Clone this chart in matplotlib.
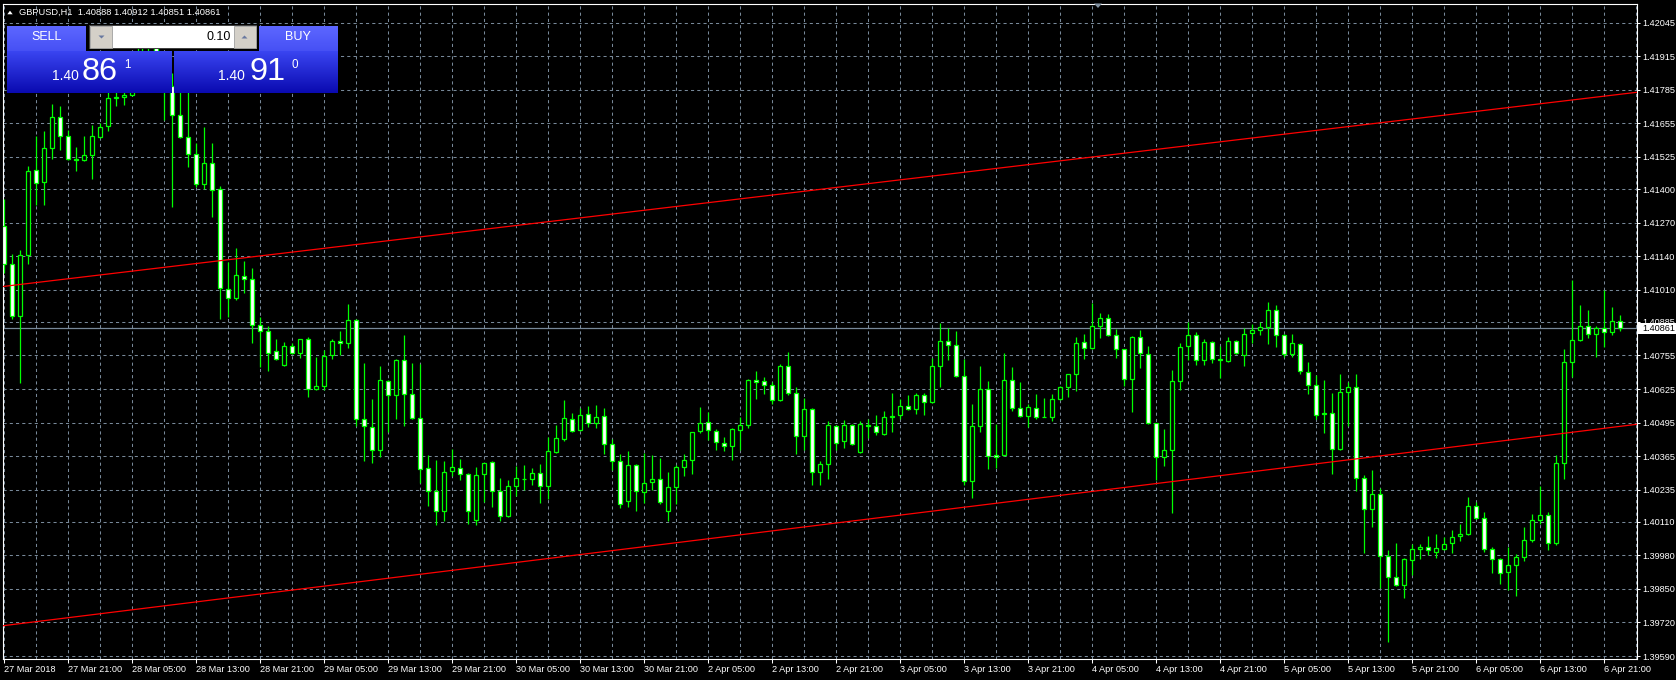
import matplotlib
matplotlib.use("Agg")
import matplotlib.pyplot as plt
from matplotlib.patches import Rectangle, Polygon
from matplotlib.transforms import Affine2D
import numpy as np

plt.rcParams['font.family'] = ['Liberation Sans', 'DejaVu Sans']

# ---------------- data ----------------
opens = [
    1.41258, 1.41108, 1.40909, 1.41146, 1.41473, 1.41426, 1.41558, 1.41678, 1.41605, 1.41515,
    1.41512, 1.41531, 1.41601, 1.41643, 1.41754, 1.41756, 1.41765, 1.41860, 1.41960, 1.41950,
    1.41860, 1.41800, 1.41686, 1.41601, 1.41535, 1.41419, 1.41500, 1.41399, 1.41012, 1.40977,
    1.41062, 1.41050, 1.40872, 1.40849, 1.40771, 1.40717, 1.40791, 1.40764, 1.40818, 1.40624,
    1.40636, 1.40756, 1.40810, 1.40803, 1.40892, 1.40508, 1.40477, 1.40388, 1.40655, 1.40601,
    1.40737, 1.40605, 1.40512, 1.40318, 1.40229, 1.40151, 1.40306, 1.40318, 1.40295, 1.40116,
    1.40295, 1.40341, 1.40229, 1.40132, 1.40248, 1.40275, 1.40275, 1.40299, 1.40248, 1.40380,
    1.40430, 1.40508, 1.40465, 1.40527, 1.40492, 1.40520, 1.40411, 1.40345, 1.40190, 1.40330,
    1.40225, 1.40264, 1.40275, 1.40151, 1.40244, 1.40322, 1.40349, 1.40461, 1.40496, 1.40461,
    1.40415, 1.40403, 1.40465, 1.40485, 1.40659, 1.40655, 1.40640, 1.40582, 1.40713, 1.40609,
    1.40442, 1.40547, 1.40302, 1.40333, 1.40481, 1.40423, 1.40485, 1.40380, 1.40485, 1.40481,
    1.40450, 1.40516, 1.40523, 1.40558, 1.40547, 1.40601, 1.40574, 1.40713, 1.40810, 1.40795,
    1.40675, 1.40268, 1.40481, 1.40624, 1.40368, 1.40368, 1.40659, 1.40551, 1.40520, 1.40551,
    1.40518, 1.40516, 1.40585, 1.40632, 1.40682, 1.40806, 1.40783, 1.40868, 1.40899, 1.40834,
    1.40779, 1.40663, 1.40826, 1.40760, 1.40492, 1.40361, 1.40388, 1.40655, 1.40791, 1.40834,
    1.40737, 1.40806, 1.40740, 1.40733, 1.40810, 1.40756, 1.40841, 1.40853, 1.40865, 1.40930,
    1.40834, 1.40760, 1.40799, 1.40690, 1.40640, 1.40531, 1.40531, 1.40392, 1.40613, 1.40632,
    1.40279, 1.40159, 1.40217, 1.39977, 1.39895, 1.39867, 1.39961, 1.40004, 1.40012, 1.39992,
    1.40004, 1.40027, 1.40054, 1.40062, 1.40171, 1.40124, 1.40004, 1.39965, 1.39915, 1.39942,
    1.39973, 1.40039, 1.40116, 1.40136, 1.40027, 1.40337, 1.40729, 1.40814, 1.40868, 1.40838,
    1.40861, 1.40845, 1.40888,
]
highs = [
    1.41362, 1.41149, 1.41163, 1.41488, 1.41605, 1.41625, 1.41730, 1.41722, 1.41629, 1.41563,
    1.41606, 1.41649, 1.41655, 1.41791, 1.41790, 1.41800, 1.41880, 1.42010, 1.42030, 1.41990,
    1.41920, 1.41850, 1.41775, 1.41780, 1.41578, 1.41641, 1.41579, 1.41412, 1.41116, 1.41170,
    1.41121, 1.41094, 1.40906, 1.40869, 1.40818, 1.40808, 1.40802, 1.40820, 1.40826, 1.40748,
    1.40775, 1.40818, 1.40850, 1.40955, 1.40895, 1.40725, 1.40585, 1.40713, 1.40658, 1.40740,
    1.40834, 1.40725, 1.40721, 1.40368, 1.40349, 1.40345, 1.40392, 1.40353, 1.40298, 1.40322,
    1.40340, 1.40344, 1.40279, 1.40271, 1.40326, 1.40330, 1.40318, 1.40333, 1.40438, 1.40485,
    1.40582, 1.40531, 1.40551, 1.40558, 1.40562, 1.40551, 1.40430, 1.40372, 1.40384, 1.40333,
    1.40376, 1.40368, 1.40357, 1.40302, 1.40330, 1.40372, 1.40460, 1.40554, 1.40535, 1.40469,
    1.40438, 1.40472, 1.40516, 1.40662, 1.40694, 1.40671, 1.40651, 1.40721, 1.40768, 1.40632,
    1.40589, 1.40550, 1.40345, 1.40500, 1.40484, 1.40504, 1.40489, 1.40500, 1.40508, 1.40523,
    1.40539, 1.40609, 1.40585, 1.40601, 1.40609, 1.40609, 1.40744, 1.40880, 1.40861, 1.40849,
    1.40741, 1.40566, 1.40713, 1.40655, 1.40489, 1.40764, 1.40709, 1.40651, 1.40566, 1.40605,
    1.40589, 1.40605, 1.40635, 1.40685, 1.40826, 1.40837, 1.40959, 1.40919, 1.40915, 1.40857,
    1.40782, 1.40829, 1.40853, 1.40791, 1.40495, 1.40469, 1.40698, 1.40802, 1.40884, 1.40845,
    1.40818, 1.40810, 1.40791, 1.40826, 1.40814, 1.40861, 1.40876, 1.40884, 1.40963, 1.40951,
    1.40837, 1.40837, 1.40802, 1.40729, 1.40678, 1.40659, 1.40609, 1.40682, 1.40651, 1.40682,
    1.40291, 1.40310, 1.40240, 1.40000, 1.40027, 1.39969, 1.40023, 1.40023, 1.40054, 1.40062,
    1.40051, 1.40078, 1.40101, 1.40206, 1.40186, 1.40147, 1.40012, 1.39968, 1.40012, 1.39985,
    1.40089, 1.40140, 1.40248, 1.40147, 1.40368, 1.40779, 1.41047, 1.40950, 1.40931, 1.40868,
    1.41008, 1.40942, 1.40912,
]
lows = [
    1.41074, 1.40895, 1.40650, 1.41108, 1.41340, 1.41340, 1.41517, 1.41553, 1.41512, 1.41471,
    1.41510, 1.41440, 1.41598, 1.41627, 1.41723, 1.41726, 1.41760, 1.41830, 1.41900, 1.41820,
    1.41668, 1.41332, 1.41597, 1.41487, 1.41410, 1.41399, 1.41293, 1.40898, 1.40903, 1.40970,
    1.40999, 1.40805, 1.40712, 1.40696, 1.40738, 1.40715, 1.40762, 1.40744, 1.40593, 1.40622,
    1.40620, 1.40740, 1.40756, 1.40783, 1.40482, 1.40344, 1.40340, 1.40361, 1.40458, 1.40507,
    1.40483, 1.40510, 1.40262, 1.40173, 1.40096, 1.40115, 1.40287, 1.40271, 1.40103, 1.40096,
    1.40186, 1.40169, 1.40112, 1.40128, 1.40209, 1.40233, 1.40252, 1.40182, 1.40197, 1.40378,
    1.40423, 1.40459, 1.40463, 1.40477, 1.40473, 1.40372, 1.40310, 1.40162, 1.40167, 1.40154,
    1.40185, 1.40233, 1.40178, 1.40112, 1.40178, 1.40287, 1.40295, 1.40454, 1.40426, 1.40388,
    1.40384, 1.40349, 1.40388, 1.40473, 1.40585, 1.40605, 1.40566, 1.40578, 1.40601, 1.40372,
    1.40388, 1.40252, 1.40252, 1.40275, 1.40388, 1.40395, 1.40409, 1.40378, 1.40434, 1.40446,
    1.40446, 1.40458, 1.40508, 1.40545, 1.40527, 1.40523, 1.40570, 1.40632, 1.40737, 1.40671,
    1.40252, 1.40202, 1.40458, 1.40314, 1.40318, 1.40365, 1.40539, 1.40518, 1.40477, 1.40508,
    1.40515, 1.40500, 1.40582, 1.40593, 1.40616, 1.40740, 1.40780, 1.40822, 1.40831, 1.40744,
    1.40638, 1.40535, 1.40706, 1.40489, 1.40271, 1.40326, 1.40144, 1.40620, 1.40737, 1.40717,
    1.40717, 1.40725, 1.40667, 1.40729, 1.40762, 1.40713, 1.40802, 1.40834, 1.40799, 1.40787,
    1.40748, 1.40748, 1.40682, 1.40605, 1.40508, 1.40454, 1.40295, 1.40389, 1.40481, 1.40229,
    1.39991, 1.40092, 1.39855, 1.39645, 1.39863, 1.39813, 1.39903, 1.39965, 1.39981, 1.39969,
    1.40001, 1.39989, 1.40034, 1.40058, 1.40121, 1.39992, 1.39911, 1.39871, 1.39844, 1.39821,
    1.39958, 1.40031, 1.40101, 1.40000, 1.40020, 1.40275, 1.40671, 1.40811, 1.40822, 1.40748,
    1.40787, 1.40834, 1.40851,
]
closes = [
    1.41108, 1.40909, 1.41143, 1.41469, 1.41422, 1.41558, 1.41678, 1.41605, 1.41515, 1.41513,
    1.41531, 1.41605, 1.41639, 1.41752, 1.41756, 1.41765, 1.41860, 1.41960, 1.41950, 1.41860,
    1.41800, 1.41686, 1.41601, 1.41535, 1.41419, 1.41500, 1.41395, 1.41015, 1.40977, 1.41066,
    1.41050, 1.40872, 1.40849, 1.40766, 1.40740, 1.40791, 1.40764, 1.40818, 1.40624, 1.40636,
    1.40752, 1.40810, 1.40803, 1.40892, 1.40508, 1.40481, 1.40388, 1.40659, 1.40601, 1.40737,
    1.40605, 1.40512, 1.40314, 1.40229, 1.40151, 1.40302, 1.40322, 1.40295, 1.40151, 1.40291,
    1.40337, 1.40229, 1.40132, 1.40248, 1.40279, 1.40276, 1.40299, 1.40248, 1.40384, 1.40434,
    1.40512, 1.40461, 1.40523, 1.40492, 1.40516, 1.40411, 1.40345, 1.40178, 1.40330, 1.40229,
    1.40260, 1.40275, 1.40186, 1.40244, 1.40322, 1.40349, 1.40457, 1.40492, 1.40465, 1.40419,
    1.40403, 1.40469, 1.40485, 1.40659, 1.40651, 1.40640, 1.40582, 1.40713, 1.40609, 1.40442,
    1.40547, 1.40302, 1.40333, 1.40485, 1.40415, 1.40485, 1.40411, 1.40489, 1.40482, 1.40458,
    1.40516, 1.40520, 1.40558, 1.40547, 1.40601, 1.40574, 1.40713, 1.40810, 1.40795, 1.40675,
    1.40268, 1.40481, 1.40624, 1.40364, 1.40361, 1.40659, 1.40551, 1.40520, 1.40554, 1.40516,
    1.40517, 1.40585, 1.40632, 1.40682, 1.40802, 1.40783, 1.40868, 1.40899, 1.40834, 1.40779,
    1.40663, 1.40826, 1.40764, 1.40492, 1.40361, 1.40388, 1.40655, 1.40787, 1.40834, 1.40737,
    1.40806, 1.40740, 1.40738, 1.40810, 1.40764, 1.40837, 1.40853, 1.40865, 1.40930, 1.40834,
    1.40760, 1.40802, 1.40694, 1.40640, 1.40523, 1.40529, 1.40392, 1.40613, 1.40632, 1.40279,
    1.40159, 1.40217, 1.39977, 1.39895, 1.39867, 1.39965, 1.40004, 1.40012, 1.40000, 1.40008,
    1.40023, 1.40051, 1.40062, 1.40171, 1.40124, 1.40004, 1.39965, 1.39911, 1.39942, 1.39973,
    1.40039, 1.40116, 1.40136, 1.40027, 1.40337, 1.40729, 1.40814, 1.40868, 1.40838, 1.40861,
    1.40845, 1.40888, 1.40861,
]

time_label_bars = [0, 8, 16, 24, 32, 40, 48, 56, 64, 72, 80, 88, 96, 104, 112, 120,
                   128, 136, 144, 152, 160, 168, 176, 184, 192, 200]
time_labels = ["27 Mar 2018", "27 Mar 21:00", "28 Mar 05:00", "28 Mar 13:00", "28 Mar 21:00",
               "29 Mar 05:00", "29 Mar 13:00", "29 Mar 21:00", "30 Mar 05:00", "30 Mar 13:00",
               "30 Mar 21:00", "2 Apr 05:00", "2 Apr 13:00", "2 Apr 21:00", "3 Apr 05:00",
               "3 Apr 13:00", "3 Apr 21:00", "4 Apr 05:00", "4 Apr 13:00", "4 Apr 21:00",
               "5 Apr 05:00", "5 Apr 13:00", "5 Apr 21:00", "6 Apr 05:00", "6 Apr 13:00",
               "6 Apr 21:00"]
price_labels = ["1.39590", "1.39720", "1.39850", "1.39980", "1.40110", "1.40235", "1.40365",
                "1.40495", "1.40625", "1.40755", "1.40885", "1.41010", "1.41140", "1.41270",
                "1.41400", "1.41525", "1.41655", "1.41785", "1.41915", "1.42045"]

upper_line_bars = [0, 204]
upper_line_prices = [1.41023, 1.41775]
lower_line_bars = [0, 204]
lower_line_prices = [1.39708, 1.40488]

current_price = 1.40861
header_text = "GBPUSD,H1  1.40888 1.40912 1.40851 1.40861"
lot_text = "0.10"
sell_big, sell_small, sell_sup = "86", "1.40", "1"
buy_big, buy_small, buy_sup = "91", "1.40", "0"

# ---------------- figure ----------------
W, H = 1676, 680
fig = plt.figure(figsize=(W / 100, H / 100), dpi=100, facecolor='black')
pix = Affine2D().scale(1.0 / W, -1.0 / H).translate(0, 1) + fig.transFigure

ax_l, ax_r, ax_t, ax_b = 2.5, 1636.7, 3.5, 659.0
ax = fig.add_axes([ax_l / W, 1 - ax_b / H, (ax_r - ax_l) / W, (ax_b - ax_t) / H])
ax.set_facecolor('black')
ax.set_xlim(-0.225, 204.05)
ax.set_ylim(1.395784, 1.421194)

grid_c = '#778899'
price_ticks = [float(s) for s in price_labels]
for v in price_ticks:
    ax.axhline(v, color=grid_c, lw=0.75, ls=(0, (3, 3)), zorder=1)
for b in range(0, 205, 4):
    ax.axvline(b, color=grid_c, lw=0.75, ls=(0, (3, 3)), zorder=1)

# current price line
ax.axhline(current_price, color=grid_c, lw=0.9, zorder=2)

# candles
o = np.array(opens); h = np.array(highs); l = np.array(lows); c = np.array(closes)
idx = np.arange(len(o))
bull = c > o
ax.vlines(idx, l, h, color='#00ff00', lw=0.9, zorder=3)
ax.bar(idx, np.abs(c - o), width=0.5, bottom=np.minimum(o, c),
       color=np.where(bull, 'black', 'white'), edgecolor='#00ff00', linewidth=0.9, zorder=4)

# trend lines
ax.axline((upper_line_bars[0], upper_line_prices[0]), (upper_line_bars[1], upper_line_prices[1]),
          color='#ff0000', lw=0.9, zorder=5)
ax.axline((lower_line_bars[0], lower_line_prices[0]), (lower_line_bars[1], lower_line_prices[1]),
          color='#ff0000', lw=0.9, zorder=5)

# axes styling
for s in ax.spines.values():
    s.set_color('white'); s.set_linewidth(0.8)
ax.yaxis.tick_right()
ax.set_yticks(price_ticks)
ax.set_yticklabels(price_labels)
ax.tick_params(axis='y', colors='white', length=2.4, width=0.75, pad=2.0, labelsize=6.6)
ax.set_xticks(time_label_bars)
ax.set_xticklabels(time_labels)
for t in ax.get_xticklabels():
    t.set_ha('left')
ax.tick_params(axis='x', colors='white', length=2.9, width=0.75, pad=1.5, labelsize=6.6)

# current price label box
fig.add_artist(Rectangle((1638, 323), 38, 10.5, transform=pix, facecolor='white',
                         edgecolor='none', zorder=10))
fig.text(1642.7, 328.3, "%.5f" % current_price, transform=pix, color='black', fontsize=6.6,
         ha='left', va='center', zorder=11)

# header
fig.add_artist(Polygon([(7.3, 14.3), (12.7, 14.3), (10, 10.7)], closed=True, transform=pix,
                       facecolor='white', edgecolor='none', zorder=10))
fig.text(19.3, 12.7, header_text, transform=pix, color='white', fontsize=6.7,
         ha='left', va='center', zorder=11)
# chart shift marker
fig.add_artist(Polygon([(1094, 3.5), (1102, 3.5), (1098, 8)], closed=True, transform=pix,
                       facecolor='#8090a0', edgecolor='none', zorder=10))


def grad_rect(x0, y0, x1, y1, ctop, cbot, z=12):
    ctop = np.array(matplotlib.colors.to_rgb(ctop)); cbot = np.array(matplotlib.colors.to_rgb(cbot))
    n = int(round(y1 - y0))
    for k in range(n):
        f = k / max(n - 1, 1)
        col = ctop * (1 - f) + cbot * f
        fig.add_artist(Rectangle((x0, y0 + k), x1 - x0, 1.05, transform=pix, facecolor=col,
                                 edgecolor='none', zorder=z))


# one-click trading panel
grad_rect(7.3, 25.5, 85.7, 50.5, '#5c66ff', '#4650f4')
grad_rect(258.7, 25.5, 337.7, 50.5, '#5c66ff', '#4650f4')
grad_rect(7.3, 50.5, 171.7, 92.7, '#3944f0', '#0a0ab0')
grad_rect(174.0, 50.5, 337.7, 92.7, '#3944f0', '#0a0ab0')
fig.add_artist(Rectangle((11, 49.5), 72, 0.8, transform=pix, facecolor='#b0b8ff', edgecolor='none', zorder=13))
fig.add_artist(Rectangle((262, 49.5), 72, 0.8, transform=pix, facecolor='#b0b8ff', edgecolor='none', zorder=13))

# lot box
fig.add_artist(Rectangle((88.7, 24.8), 168, 24.2, transform=pix, facecolor='#404040', edgecolor='none', zorder=12))
fig.add_artist(Rectangle((89.7, 25.8), 166, 22.2, transform=pix, facecolor='white', edgecolor='none', zorder=13))
fig.add_artist(Rectangle((89.7, 25.8), 22, 22.2, transform=pix, facecolor='#d4d0c8', edgecolor='#a0a0a0', lw=0.6, zorder=14))
fig.add_artist(Rectangle((233.7, 25.8), 22, 22.2, transform=pix, facecolor='#d4d0c8', edgecolor='#a0a0a0', lw=0.6, zorder=14))
fig.add_artist(Polygon([(98.5, 35.5), (104.5, 35.5), (101.5, 38.5)], closed=True, transform=pix,
                       facecolor='#6878a0', edgecolor='none', zorder=15))
fig.add_artist(Polygon([(241.5, 38.5), (247.5, 38.5), (244.5, 35.5)], closed=True, transform=pix,
                       facecolor='#6878a0', edgecolor='none', zorder=15))
fig.text(231, 36.5, lot_text, transform=pix, color='black', fontsize=9, ha='right', va='center', zorder=16)

fig.text(46.6, 36.8, "SELL", transform=pix, color='white', fontsize=9, ha='center', va='center', zorder=16)
fig.text(298.0, 36.8, "BUY", transform=pix, color='white', fontsize=9, ha='center', va='center', zorder=16)

fig.text(51.7, 80.0, sell_small, transform=pix, color='white', fontsize=10, ha='left', va='baseline', zorder=16)
fig.text(81.5, 80.0, sell_big, transform=pix, color='white', fontsize=23.4, ha='left', va='baseline', zorder=16)
fig.text(124.5, 68.3, sell_sup, transform=pix, color='white', fontsize=8.4, ha='left', va='baseline', zorder=16)
fig.text(217.7, 80.0, buy_small, transform=pix, color='white', fontsize=10, ha='left', va='baseline', zorder=16)
fig.text(249.5, 80.0, buy_big, transform=pix, color='white', fontsize=23.4, ha='left', va='baseline', zorder=16)
fig.text(291.5, 68.3, buy_sup, transform=pix, color='white', fontsize=8.4, ha='left', va='baseline', zorder=16)

fig.savefig("out.png", dpi=100, facecolor='black')
